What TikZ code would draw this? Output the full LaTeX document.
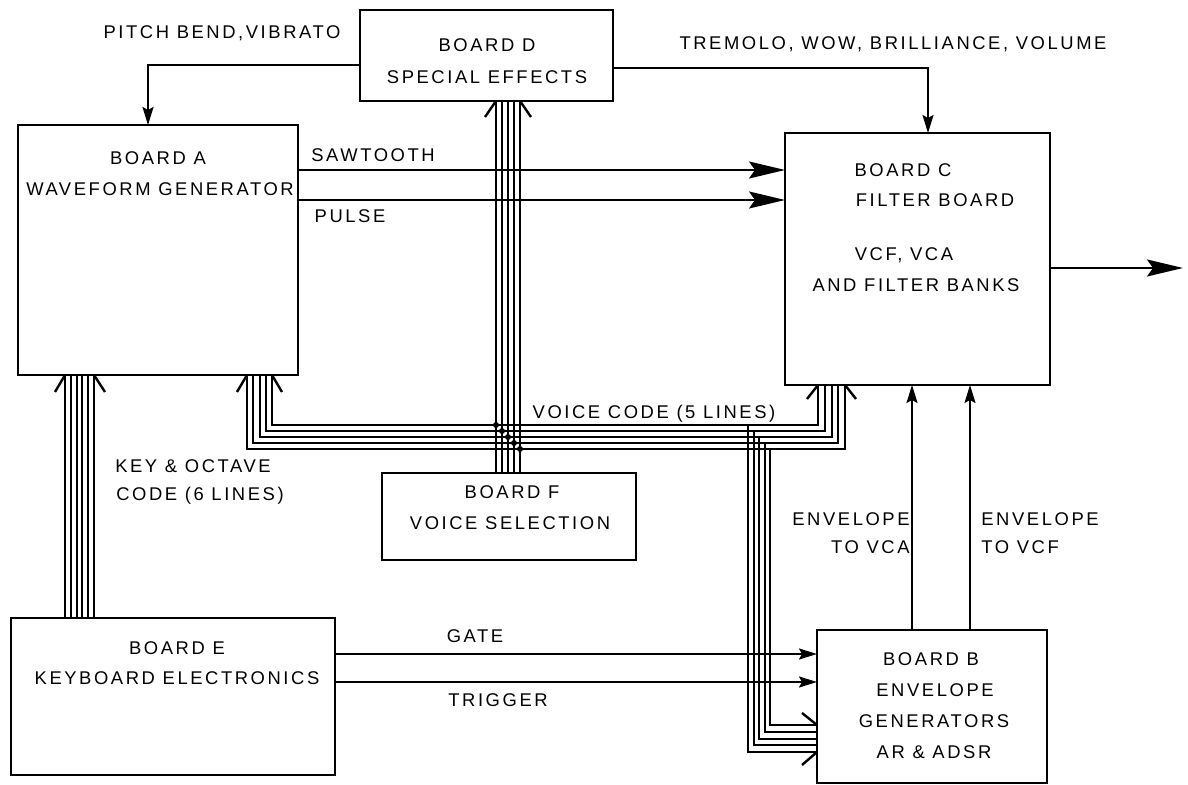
\documentclass[tikz,border=0pt]{standalone}
\usepackage{fontspec}
\setmainfont{Liberation Sans}[LetterSpace=14]
\usetikzlibrary{arrows.meta,calc}
\begin{document}
\begin{tikzpicture}[x=0.5pt,y=-0.5pt,
  box/.style={draw, line width=1.2pt, inner sep=0pt, outer sep=0pt, anchor=north west},
  lbl/.style={font=\fontsize{9.2}{10}\selectfont, inner sep=0pt},
  bus/.style={line width=1pt, line join=miter},
  chev/.style={line width=1.2pt},
  barr/.style={line width=1pt, -{Stealth[length=18pt,width=8.5pt,inset=3pt]}},
  sarr/.style={line width=1pt, -{Stealth[length=9pt,width=5.5pt,inset=1.5pt]}}]
\useasboundingbox (0,0) rectangle (1188,785);
% boxes
\node[box, minimum width=140pt, minimum height=125pt] (A) at (18,125) {};
\node[box, minimum width=126.5pt, minimum height=45.5pt] (D) at (360,10) {};
\node[box, minimum width=132.5pt, minimum height=126pt] (C) at (785,133) {};
\node[box, minimum width=127pt, minimum height=43.5pt] (F) at (382,473) {};
\node[box, minimum width=162pt, minimum height=78.5pt] (E) at (11,618) {};
\node[box, minimum width=115pt, minimum height=76.5pt] (B) at (817,630) {};
% box texts
\node[lbl] (ta1) at (158,158) {BOARD A};
\node[lbl] (ta2) at (160,189) {WAVEFORM GENERATOR};
\node[lbl] (td1) at (487,45) {BOARD D};
\node[lbl] (td2) at (487,77) {SPECIAL EFFECTS};
\node[lbl] (tc1) at (903,170) {BOARD C};
\node[lbl] (tc2) at (935,200) {FILTER BOARD};
\node[lbl] (tc3) at (904,255) {VCF, VCA};
\node[lbl] (tc4) at (916,285) {AND FILTER BANKS};
\node[lbl] (tf1) at (512,492) {BOARD F};
\node[lbl] (tf2) at (510,523) {VOICE SELECTION};
\node[lbl] (te1) at (177,648) {BOARD E};
\node[lbl] (te2) at (177,678) {KEYBOARD ELECTRONICS};
\node[lbl] (tb1) at (931,659) {BOARD B};
\node[lbl] (tb2) at (935,690) {ENVELOPE};
\node[lbl] (tb3) at (934,721) {GENERATORS};
\node[lbl] (tb4) at (934,752) {AR \& ADSR};
% connector labels
\node[lbl] (lpb) at (222,33) {PITCH BEND,VIBRATO};
\node[lbl] (ltr) at (893,44) {TREMOLO, WOW, BRILLIANCE, VOLUME};
\node[lbl] (lsw) at (373,155) {SAWTOOTH};
\node[lbl] (lpu) at (350,216) {PULSE};
\node[lbl] (lvc) at (654,414) {VOICE CODE (5 LINES)};
\node[lbl] (lk1) at (193,466) {KEY \& OCTAVE};
\node[lbl] (lk2) at (200,496) {CODE (6 LINES)};
\node[lbl, anchor=east] (le1) at (910,519) {ENVELOPE};
\node[lbl, anchor=east] (le2) at (910,547) {TO VCA};
\node[lbl, anchor=west] (lf1) at (981,519) {ENVELOPE};
\node[lbl, anchor=west] (lf2) at (981,547) {TO VCF};
\node[lbl] (lg) at (475,636) {GATE};
\node[lbl] (ltg) at (498,700) {TRIGGER};
% single connectors
\coordinate (pb) at (148,65);
\draw[sarr] (D.west |- pb) -- (pb) -- (pb |- A.north);
\coordinate (tr) at (928,68);
\draw[sarr] (D.east |- tr) -- (tr) -- (tr |- C.north);
\coordinate (sw) at (0,170);
\draw[barr] (A.east |- sw) -- (C.west |- sw);
\coordinate (pu) at (0,200);
\draw[barr] (A.east |- pu) -- (C.west |- pu);
\coordinate (out) at (1183,268);
\draw[barr] (C.east |- out) -- (out);
\coordinate (vca) at (912,0);
\draw[sarr] (vca |- B.north) -- (vca |- C.south);
\coordinate (vcf) at (970,0);
\draw[sarr] (vcf |- B.north) -- (vcf |- C.south);
\coordinate (ga) at (0,654);
\draw[sarr] (E.east |- ga) -- (B.west |- ga);
\coordinate (tg) at (0,682);
\draw[sarr] (E.east |- tg) -- (B.west |- tg);
% key & octave bus E -> A
\foreach \k in {0,...,5}{
  \coordinate (t) at (65+5.8*\k,0);
  \draw[bus] (t |- E.north) -- (t |- A.south);
}
\draw[chev] (55,392) -- (65,375);
\draw[chev] (105,392) -- (94,375);
% voice bus F -> D
\foreach \k in {0,...,4}{
  \coordinate (t) at (496+6*\k,0);
  \draw[bus] (t |- F.north) -- (t |- D.south);
}
\draw[chev] (485,117) -- (496,101);
\draw[chev] (531,117) -- (520,101);
% voice code bus to A, C and B
\foreach \i in {0,...,4}{
  \pgfmathsetmacro\yy{425+6*\i}
  \pgfmathsetmacro\xa{272-6.25*\i}
  \pgfmathsetmacro\xc{818+6.75*\i}
  \pgfmathsetmacro\xb{748+5.5*\i}
  \pgfmathsetmacro\yb{752-6.75*\i}
  \coordinate (va) at (\xa,\yy);
  \coordinate (vc) at (\xc,\yy);
  \coordinate (vb) at (\xb,\yb);
  \draw[bus] (va |- A.south) -- (va) -- (vc) -- (vc |- C.south);
  \draw[bus] (\xb,\yy) -- (vb) -- (B.west |- vb);
  \fill (496+6*\i,\yy) circle (1.5pt);
}
\draw[chev] (237,392) -- (247,375);
\draw[chev] (282,392) -- (272,375);
\draw[chev] (807,399) -- (818,385);
\draw[chev] (856,399) -- (845,385);
\draw[chev] (802,713) -- (817,725);
\draw[chev] (802,765) -- (817,752);
\end{tikzpicture}
\end{document}
